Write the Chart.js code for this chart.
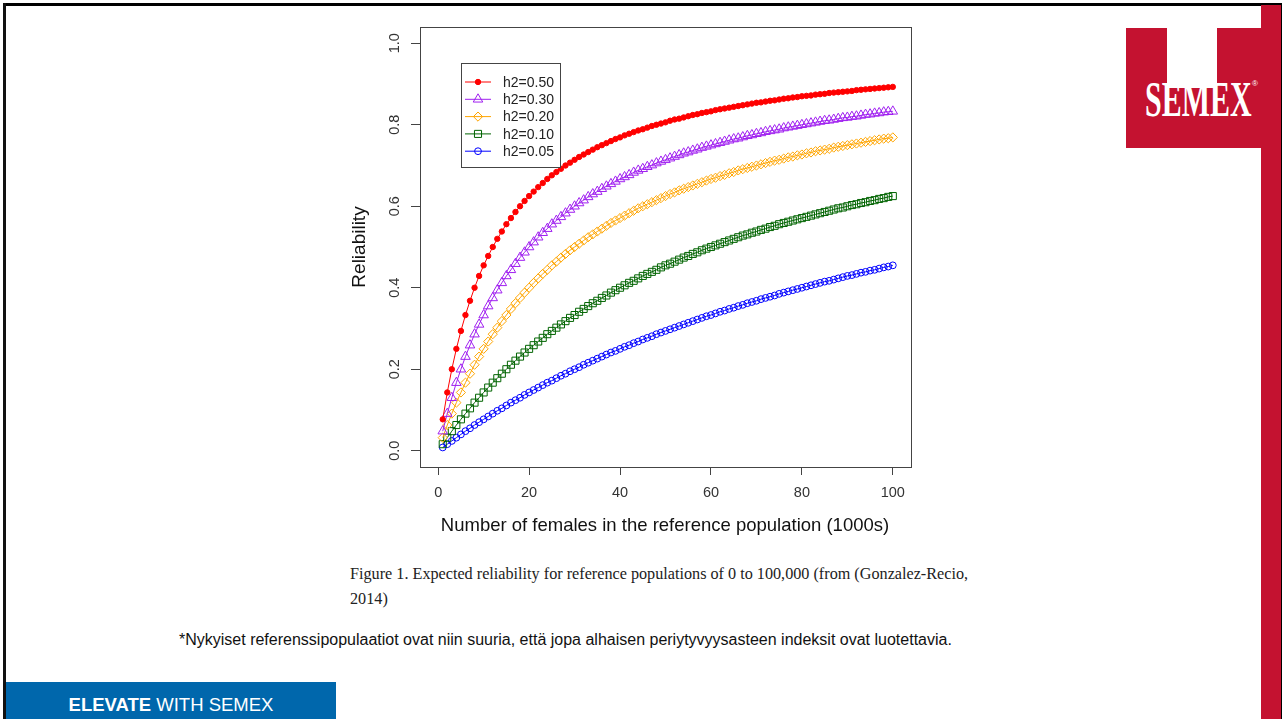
<!DOCTYPE html>
<html>
<head>
<meta charset="utf-8">
<script src="https://cdn.jsdelivr.net/npm/chart.js@4/dist/chart.umd.min.js"></script>
<style>
  html, body { margin: 0; padding: 0; background: #fff; }
  body { width: 1282px; height: 719px; position: relative; overflow: hidden; font-family: "Liberation Sans", Arial, sans-serif; }
  .frame-top { position: absolute; left: 3px; top: 3px; width: 1279px; height: 3px; background: #000; }
  .frame-left { position: absolute; left: 3px; top: 3px; width: 3px; height: 716px; background: #111; }
  .red-bar { position: absolute; left: 1261px; top: 5px; width: 20px; height: 714px; background: #c41230; }
  .red-edge { position: absolute; left: 1281px; top: 3px; width: 1px; height: 716px; background: #000; }
  .logo { position: absolute; left: 1126px; top: 28px; width: 135px; height: 120px; background: #c41230; }
  .logo .notch { position: absolute; left: 41px; top: 0; width: 50px; height: 60px; background: #fff; }
  .logo .word { position: absolute; left: 19px; top: 46px; line-height: 50px; color: #fff; white-space: nowrap;
    font-family: "Liberation Serif", serif; font-weight: bold; font-size: 50px; transform: scaleX(0.6); transform-origin: 0 0; }
  .logo .reg { position: absolute; left: 126px; top: 52px; color: #fff; font-size: 8px; line-height: 8px; }
  #wrap { position: absolute; left: 340px; top: 20px; width: 590px; height: 520px; }
  .caption { position: absolute; left: 350px; top: 562px; font-family: "Liberation Serif", serif; font-size: 16.2px; line-height: 25px; color: #222; }
  .note { position: absolute; left: 179px; top: 631px; font-size: 16px; color: #111; }
  .footer { position: absolute; left: 6px; top: 682px; width: 330px; height: 37px; background: #0067ac; color: #fff;
    font-size: 18.5px; line-height: 46px; text-align: center; overflow: hidden; }
</style>
</head>
<body>
<div class="frame-top"></div>
<div class="frame-left"></div>
<div class="red-bar"></div>
<div class="red-edge"></div>
<div class="logo"><div class="notch"></div><div class="word">SEMEX</div><div class="reg">®</div></div>
<div id="wrap"><canvas id="chart" width="590" height="520"></canvas></div>
<div class="caption">Figure 1. Expected reliability for reference populations of 0 to 100,000 (from (Gonzalez-Recio,<br>2014)</div>
<div class="note">*Nykyiset referenssipopulaatiot ovat niin suuria, että jopa alhaisen periytyvyysasteen indeksit ovat luotettavia.</div>
<div class="footer"><b>ELEVATE</b> WITH SEMEX</div>

<script>
// reference population size, 1000s of females
const females = [1,2,3,4,5,6,7,8,9,10,11,12,13,14,15,16,17,18,19,20,
  21,22,23,24,25,26,27,28,29,30,31,32,33,34,35,36,37,38,39,40,
  41,42,43,44,45,46,47,48,49,50,51,52,53,54,55,56,57,58,59,60,
  61,62,63,64,65,66,67,68,69,70,71,72,73,74,75,76,77,78,79,80,
  81,82,83,84,85,86,87,88,89,90,91,92,93,94,95,96,97,98,99,100];

// reliability
const rel050 = [0.077,0.143,0.200,0.250,0.294,0.333,0.368,0.400,0.429,0.455,
  0.478,0.500,0.520,0.538,0.556,0.571,0.586,0.600,0.613,0.625,
  0.636,0.647,0.657,0.667,0.676,0.684,0.692,0.700,0.707,0.714,
  0.721,0.727,0.733,0.739,0.745,0.750,0.755,0.760,0.765,0.769,
  0.774,0.778,0.782,0.786,0.789,0.793,0.797,0.800,0.803,0.806,
  0.810,0.813,0.815,0.818,0.821,0.824,0.826,0.829,0.831,0.833,
  0.836,0.838,0.840,0.842,0.844,0.846,0.848,0.850,0.852,0.854,
  0.855,0.857,0.859,0.860,0.862,0.864,0.865,0.867,0.868,0.870,
  0.871,0.872,0.874,0.875,0.876,0.878,0.879,0.880,0.881,0.882,
  0.883,0.885,0.886,0.887,0.888,0.889,0.890,0.891,0.892,0.893];
const rel030 = [0.048,0.091,0.130,0.167,0.200,0.231,0.259,0.286,0.310,0.333,
  0.355,0.375,0.394,0.412,0.429,0.444,0.459,0.474,0.487,0.500,
  0.512,0.524,0.535,0.545,0.556,0.565,0.574,0.583,0.592,0.600,
  0.608,0.615,0.623,0.630,0.636,0.643,0.649,0.655,0.661,0.667,
  0.672,0.677,0.683,0.688,0.692,0.697,0.701,0.706,0.710,0.714,
  0.718,0.722,0.726,0.730,0.733,0.737,0.740,0.744,0.747,0.750,
  0.753,0.756,0.759,0.762,0.765,0.767,0.770,0.773,0.775,0.778,
  0.780,0.783,0.785,0.787,0.789,0.792,0.794,0.796,0.798,0.800,
  0.802,0.804,0.806,0.808,0.810,0.811,0.813,0.815,0.817,0.818,
  0.820,0.821,0.823,0.825,0.826,0.828,0.829,0.831,0.832,0.833];
const rel020 = [0.032,0.063,0.091,0.118,0.143,0.167,0.189,0.211,0.231,0.250,
  0.268,0.286,0.302,0.318,0.333,0.348,0.362,0.375,0.388,0.400,
  0.412,0.423,0.434,0.444,0.455,0.464,0.474,0.483,0.492,0.500,
  0.508,0.516,0.524,0.531,0.538,0.545,0.552,0.559,0.565,0.571,
  0.577,0.583,0.589,0.595,0.600,0.605,0.610,0.615,0.620,0.625,
  0.630,0.634,0.639,0.643,0.647,0.651,0.655,0.659,0.663,0.667,
  0.670,0.674,0.677,0.681,0.684,0.688,0.691,0.694,0.697,0.700,
  0.703,0.706,0.709,0.712,0.714,0.717,0.720,0.722,0.725,0.727,
  0.730,0.732,0.735,0.737,0.739,0.741,0.744,0.746,0.748,0.750,
  0.752,0.754,0.756,0.758,0.760,0.762,0.764,0.766,0.767,0.769];
const rel010 = [0.016,0.032,0.048,0.063,0.077,0.091,0.104,0.118,0.130,0.143,
  0.155,0.167,0.178,0.189,0.200,0.211,0.221,0.231,0.241,0.250,
  0.259,0.268,0.277,0.286,0.294,0.302,0.310,0.318,0.326,0.333,
  0.341,0.348,0.355,0.362,0.368,0.375,0.381,0.388,0.394,0.400,
  0.406,0.412,0.417,0.423,0.429,0.434,0.439,0.444,0.450,0.455,
  0.459,0.464,0.469,0.474,0.478,0.483,0.487,0.492,0.496,0.500,
  0.504,0.508,0.512,0.516,0.520,0.524,0.528,0.531,0.535,0.538,
  0.542,0.545,0.549,0.552,0.556,0.559,0.562,0.565,0.568,0.571,
  0.574,0.577,0.580,0.583,0.586,0.589,0.592,0.595,0.597,0.600,
  0.603,0.605,0.608,0.610,0.613,0.615,0.618,0.620,0.623,0.625];
const rel005 = [0.008,0.016,0.024,0.032,0.040,0.048,0.055,0.063,0.070,0.077,
  0.084,0.091,0.098,0.104,0.111,0.118,0.124,0.130,0.137,0.143,
  0.149,0.155,0.161,0.167,0.172,0.178,0.184,0.189,0.195,0.200,
  0.205,0.211,0.216,0.221,0.226,0.231,0.236,0.241,0.245,0.250,
  0.255,0.259,0.264,0.268,0.273,0.277,0.281,0.286,0.290,0.294,
  0.298,0.302,0.306,0.310,0.314,0.318,0.322,0.326,0.330,0.333,
  0.337,0.341,0.344,0.348,0.351,0.355,0.358,0.362,0.365,0.368,
  0.372,0.375,0.378,0.381,0.385,0.388,0.391,0.394,0.397,0.400,
  0.403,0.406,0.409,0.412,0.415,0.417,0.420,0.423,0.426,0.429,
  0.431,0.434,0.437,0.439,0.442,0.444,0.447,0.450,0.452,0.455];

const seriesNames = ['h2=0.50', 'h2=0.30', 'h2=0.20', 'h2=0.10', 'h2=0.05'];
const xTicks = [0, 20, 40, 60, 80, 100];
const yTicks = [0.0, 0.2, 0.4, 0.6, 0.8, 1.0];

const xTitle = 'Number of females in the reference population (1000s)';
const yTitle = 'Reliability';

const styles = [
  { color: '#ff0000', pointStyle: 'circle',   radius: 2.7, fill: true },
  { color: '#a020f0', pointStyle: 'triangle', radius: 5.5, fill: false },
  { color: '#ffa500', pointStyle: 'rectRot',  radius: 4.6, fill: false },
  { color: '#006400', pointStyle: 'rect',     radius: 5.0, fill: false },
  { color: '#0000ff', pointStyle: 'circle',   radius: 3.4, fill: false }
];
const allSeries = [rel050, rel030, rel020, rel010, rel005];

const datasets = allSeries.map((vals, i) => {
  const s = styles[i];
  return {
    label: seriesNames[i],
    data: vals.map((v, j) => ({ x: females[j], y: v })),
    borderColor: s.color,
    borderWidth: 1,
    backgroundColor: s.fill ? s.color : 'rgba(0,0,0,0)',
    pointBackgroundColor: s.fill ? s.color : 'rgba(0,0,0,0)',
    pointBorderColor: s.color,
    pointBorderWidth: 1,
    pointStyle: s.pointStyle,
    pointRadius: s.radius,
    pointHoverRadius: s.radius,
    tension: 0,
    fill: false
  };
});

// R-style frame, labels and legend
const rFrame = {
  id: 'rFrame',
  afterDraw(chart) {
    const ctx = chart.ctx;
    const a = chart.chartArea;
    const xs = chart.scales.x, ys = chart.scales.y;
    ctx.save();
    ctx.strokeStyle = '#444';
    ctx.lineWidth = 1;
    ctx.strokeRect(Math.round(a.left) + 0.5, Math.round(a.top) + 0.5,
      Math.round(a.right - a.left), Math.round(a.bottom - a.top));

    ctx.fillStyle = '#333';
    ctx.font = '14.5px "Liberation Sans", Arial, sans-serif';
    ctx.textAlign = 'center';
    ctx.textBaseline = 'middle';
    xTicks.forEach(v => ctx.fillText(String(v), xs.getPixelForValue(v), 473));
    yTicks.forEach(v => {
      ctx.save();
      ctx.translate(55, ys.getPixelForValue(v));
      ctx.rotate(-Math.PI / 2);
      ctx.fillText(v.toFixed(1), 0, 0);
      ctx.restore();
    });

    ctx.fillStyle = '#111';
    ctx.font = '18.5px "Liberation Sans", Arial, sans-serif';
    ctx.fillText(xTitle, 325, 506);
    ctx.font = '19px "Liberation Sans", Arial, sans-serif';
    ctx.save();
    ctx.translate(20, (a.top + a.bottom) / 2);
    ctx.rotate(-Math.PI / 2);
    ctx.fillText(yTitle, 0, 0);
    ctx.restore();

    // legend
    const lx = 121, ly = 43, lw = 99, lh = 104;
    ctx.fillStyle = '#fff';
    ctx.fillRect(lx, ly, lw, lh);
    ctx.strokeStyle = '#444';
    ctx.strokeRect(lx + 0.5, ly + 0.5, lw, lh);
    ctx.font = '14px "Liberation Sans", Arial, sans-serif';
    ctx.textAlign = 'left';
    chart.data.datasets.forEach((ds, i) => {
      const y = 62 + i * 17.3;
      ctx.strokeStyle = ds.borderColor;
      ctx.lineWidth = 1;
      ctx.beginPath();
      ctx.moveTo(125, y);
      ctx.lineTo(151, y);
      ctx.stroke();
      ctx.fillStyle = ds.pointBackgroundColor;
      Chart.helpers.drawPoint(ctx, {
        pointStyle: ds.pointStyle, radius: ds.pointRadius, rotation: 0, borderWidth: 1
      }, 138, y);
      ctx.fillStyle = '#222';
      ctx.fillText(ds.label, 163, y + 1);
    });
    ctx.restore();
  }
};

new Chart(document.getElementById('chart').getContext('2d'), {
  type: 'line',
  data: { datasets: datasets },
  options: {
    responsive: false,
    animation: false,
    events: [],
    layout: { padding: { top: 7, right: 19, left: 0, bottom: 0 } },
    plugins: { legend: { display: false }, tooltip: { enabled: false } },
    scales: {
      x: {
        type: 'linear', min: -4, max: 104,
        afterBuildTicks: s => { s.ticks = xTicks.map(v => ({ value: v })); },
        afterFit: s => { s.height = 73; },
        ticks: { display: false },
        border: { display: false },
        grid: { drawOnChartArea: false, drawTicks: true, tickLength: 8, color: '#444' }
      },
      y: {
        type: 'linear', min: -0.04, max: 1.04,
        afterBuildTicks: s => { s.ticks = yTicks.map(v => ({ value: v })); },
        afterFit: s => { s.width = 80; },
        ticks: { display: false },
        border: { display: false },
        grid: { drawOnChartArea: false, drawTicks: true, tickLength: 9, color: '#444' }
      }
    }
  },
  plugins: [rFrame]
});
</script>
</body>
</html>
